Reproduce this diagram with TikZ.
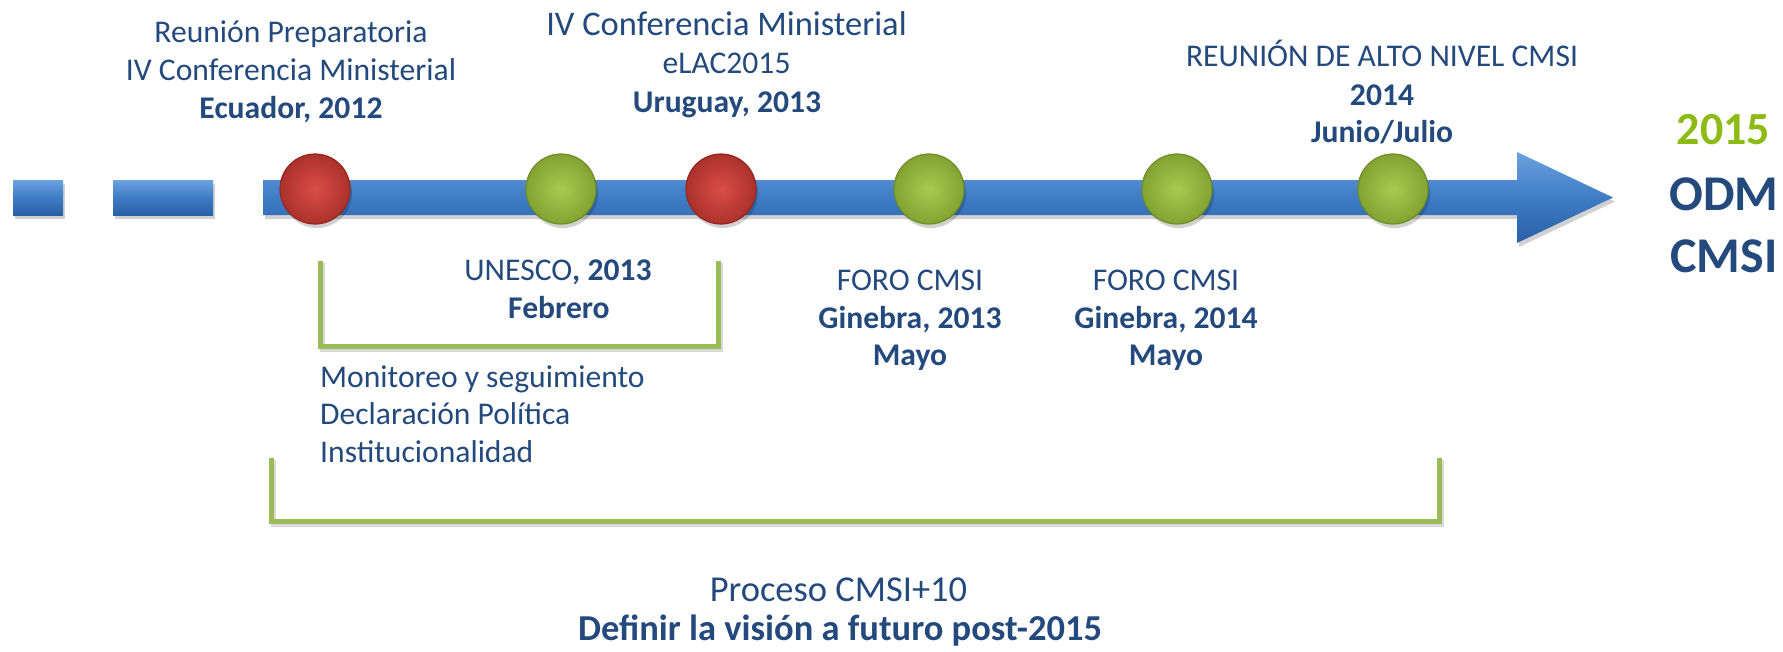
\documentclass[tikz,border=0pt]{standalone}
\usepackage{fontspec}
\setmainfont{Carlito}
\definecolor{txtblue}{RGB}{36,73,125}
\definecolor{grn2015}{RGB}{140,187,20}
\definecolor{brgreen}{RGB}{155,187,89}
\definecolor{barmid}{RGB}{62,124,196}
\definecolor{bartop}{RGB}{108,163,224}
\definecolor{barbot}{RGB}{42,96,166}
\definecolor{redfill}{RGB}{214,62,54}
\definecolor{redline}{RGB}{150,38,34}
\definecolor{grnfill}{RGB}{160,198,62}
\definecolor{grnline}{RGB}{108,142,40}
\tikzset{
  lbl/.style={anchor=base, inner sep=0pt, text=txtblue, font=\fontsize{31.6}{38}\selectfont},
  lbll/.style={lbl, anchor=base west},
  bartone/.style={top color=bartop, bottom color=barbot, middle color=barmid, draw=none},
  barshadow/.style={fill=black, opacity=0.18, draw=none},
  dot/.style={circle, minimum size=70pt, inner sep=0pt, line width=1.2pt},
  reddot/.style={dot, draw=redline, inner color=redfill!92!white, outer color=redfill!80!black},
  grndot/.style={dot, draw=grnline, inner color=grnfill!92!white, outer color=grnfill!82!black},
  dotshadow/.style={circle, minimum size=70pt, inner sep=0pt, fill=black, opacity=0.18, draw=none},
  bracket/.style={draw=brgreen, line width=5pt},
  brshadow/.style={draw=black, opacity=0.15, line width=5pt},
}
\begin{document}
\begin{tikzpicture}[x=1pt, y=-1pt]
\useasboundingbox (0,0) rectangle (1783,651);
\fill[white] (0,0) rectangle (1783,651);

% timeline bar shadows
\fill[barshadow] (15,184) rectangle (65,219);
\fill[barshadow] (115,184) rectangle (215,219);
\fill[barshadow] (265,184) -- (1519,184) -- (1519,156) -- (1615,201.5) -- (1519,247) -- (1519,219) -- (265,219) -- cycle;
% timeline bar
\shade[bartone] (13,180) rectangle (63,215);
\shade[bartone] (113,180) rectangle (213,215);
\shade[bartone] (263,180) -- (1517,180) -- (1517,152) -- (1613,197.5) -- (1517,243) -- (1517,215) -- (263,215) -- cycle;

% circle shadows
\foreach \cx in {315,561,721,929,1177,1393}
  \node[dotshadow] at (\cx+2,193) {};
% circles
\node[reddot] (c1) at (315,189) {};
\node[grndot] (c2) at (561,189) {};
\node[reddot] (c3) at (721,189) {};
\node[grndot] (c4) at (929,189) {};
\node[grndot] (c5) at (1177,189) {};
\node[grndot] (c6) at (1393,189) {};

% brackets
\draw[brshadow] (322,263) -- (322,349) -- (720,349) -- (720,263);
\draw[bracket] (320,261) -- (320,346) -- (718,346) -- (718,261);
\draw[brshadow] (273,460) -- (273,524) -- (1441,524) -- (1441,460);
\draw[bracket] (271,458) -- (271,521) -- (1439,521) -- (1439,458);

% upper labels
\node[lbl] (a1) at (291,42) {Reunión Preparatoria};
\node[lbl] (a2) at (291,80) {IV Conferencia Ministerial};
\node[lbl] (a3) at (291,118) {\bfseries Ecuador, 2012};
\node[lbl, font=\fontsize{34.5}{41}\selectfont] (b1) at (726.5,35) {IV Conferencia Ministerial};
\node[lbl] (b2) at (726.5,73) {eLAC2015};
\node[lbl] (b3) at (727,112) {\bfseries Uruguay, 2013};
\node[lbl] (r1) at (1382,66) {REUNIÓN DE ALTO NIVEL CMSI};
\node[lbl] (r2) at (1382,105) {\bfseries 2014};
\node[lbl] (r3) at (1382,142) {\bfseries Junio/Julio};

% lower labels
\node[lbl] (u1) at (558,280) {UNESCO\textbf{, 2013}};
\node[lbl] (u2) at (559,318) {\bfseries Febrero};
\node[lbl] (f1) at (910,290) {FORO CMSI};
\node[lbl] (f2) at (910,328) {\bfseries Ginebra, 2013};
\node[lbl] (f3) at (910,365) {\bfseries Mayo};
\node[lbl] (g1) at (1166,290) {FORO CMSI};
\node[lbl] (g2) at (1166,328) {\bfseries Ginebra, 2014};
\node[lbl] (g3) at (1166,365) {\bfseries Mayo};
\node[lbll] (m1) at (320,387) {Monitoreo y seguimiento};
\node[lbll] (m2) at (320,424.5) {Declaración Política};
\node[lbll] (m3) at (320,462) {Institucionalidad};
\node[lbl, font=\fontsize{36.5}{44}\selectfont] (p1) at (838.5,601) {Proceso CMSI+10};
\node[lbl, font=\fontsize{36.5}{44}\selectfont\bfseries] (p2) at (840,640) {Definir la visión a futuro post-2015};

% right labels
\node[lbl, font=\fontsize{46}{55}\selectfont\bfseries, text=grn2015] (y1) at (1723.5,144) {2015};
\node[lbl, font=\fontsize{50}{60}\selectfont\bfseries] (o1) at (1724,210) {ODM};
\node[lbl, font=\fontsize{50}{60}\selectfont\bfseries] (o2) at (1724,272) {CMSI};
\end{tikzpicture}
\end{document}
